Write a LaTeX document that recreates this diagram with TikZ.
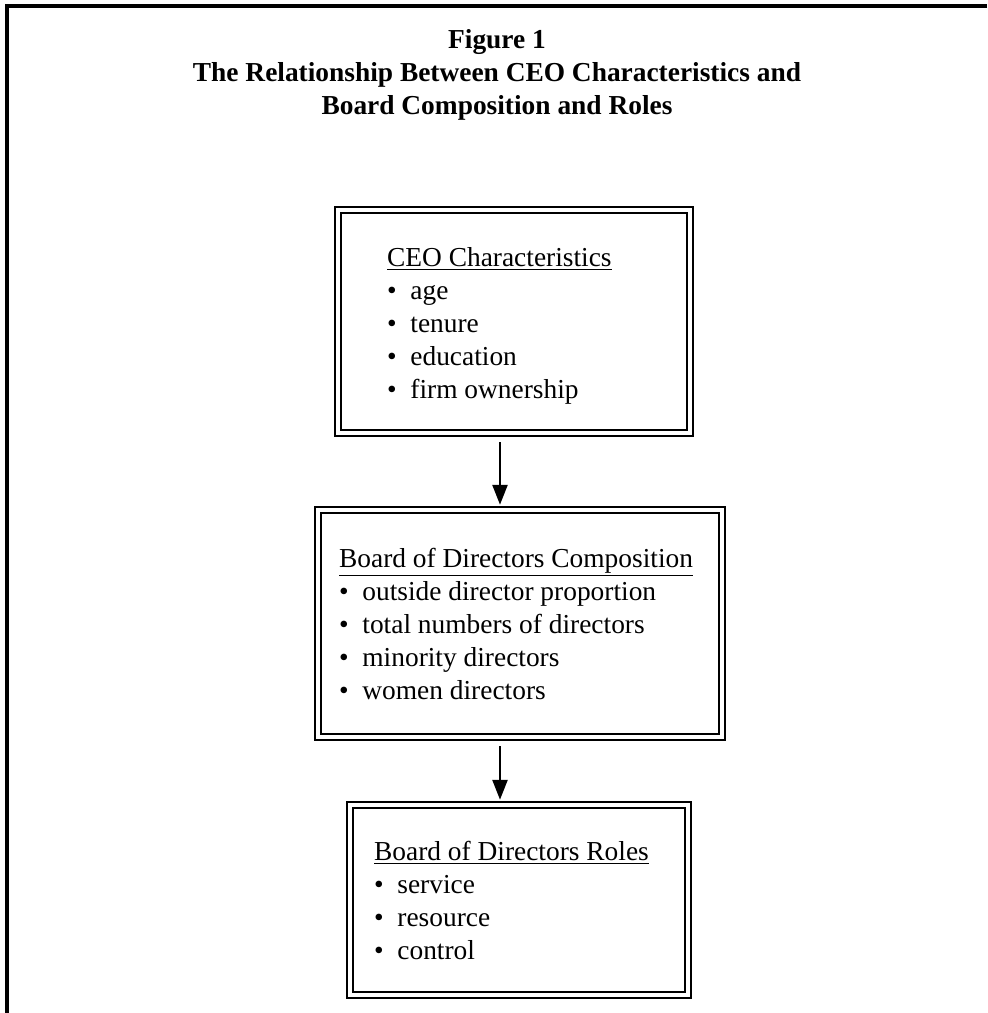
\documentclass[tikz,border=0pt]{standalone}
\usepackage{fontspec}
\setmainfont{Liberation Serif}
\usetikzlibrary{arrows.meta, positioning, calc}

\newcommand{\itemline}[1]{\makebox[0.85em][l]{\textbullet}#1}

\begin{document}
\begin{tikzpicture}[
    x=0.5pt, y=-0.5pt,
    stagebox/.style={rectangle, draw=black, line width=1.25pt, double=white, double distance=1.8pt, inner sep=0pt},
    listtext/.style={align=left, text=black, inner sep=0pt, anchor=west, font=\fontsize{13.7}{16.5}\selectfont},
    heading/.style={align=center, font=\fontsize{13.7}{16.5}\selectfont\bfseries, inner sep=0pt},
    flow/.style={draw=black, line width=1.3pt, shorten >=2pt, -{Triangle[length=10pt, width=7.5pt]}}
]
\useasboundingbox (0,0) rectangle (987,1013);

% frame (only top and left edges are in the picture)
\draw[line width=1.6pt] (987,6) -- (7,6) -- (7,1013);

\node[heading] (title) at (497,75) {Figure 1\\The Relationship Between CEO Characteristics and\\Board Composition and Roles};

% boxes
\node[stagebox, minimum width=176pt, minimum height=111.5pt] (ceo) at (514,321.5) {};
\node[stagebox, minimum width=202pt, minimum height=113.5pt] (comp) at (520,623.5) {};
\node[stagebox, minimum width=169pt, minimum height=95pt] (roles) at (519,900) {};

% box contents
\node[listtext, right=25pt of ceo.west, yshift=-2pt] (ceotext)
    {\underline{CEO Characteristics}\\
     \itemline{age}\\
     \itemline{tenure}\\
     \itemline{education}\\
     \itemline{firm ownership}};

\node[listtext, right=11pt of comp.west] (comptext)
    {\underline{Board of Directors Composition}\\
     \itemline{outside director proportion}\\
     \itemline{total numbers of directors}\\
     \itemline{minority directors}\\
     \itemline{women directors}};

\node[listtext, right=12.5pt of roles.west] (rolestext)
    {\underline{Board of Directors Roles}\\
     \itemline{service}\\
     \itemline{resource}\\
     \itemline{control}};

\draw[flow] (ceo.south -| 500,0) ++(0,8) coordinate (a1) -- (comp.north -| a1);
\draw[flow] (comp.south -| 500,0) ++(0,8) coordinate (a2) -- (roles.north -| a2);

\end{tikzpicture}
\end{document}
